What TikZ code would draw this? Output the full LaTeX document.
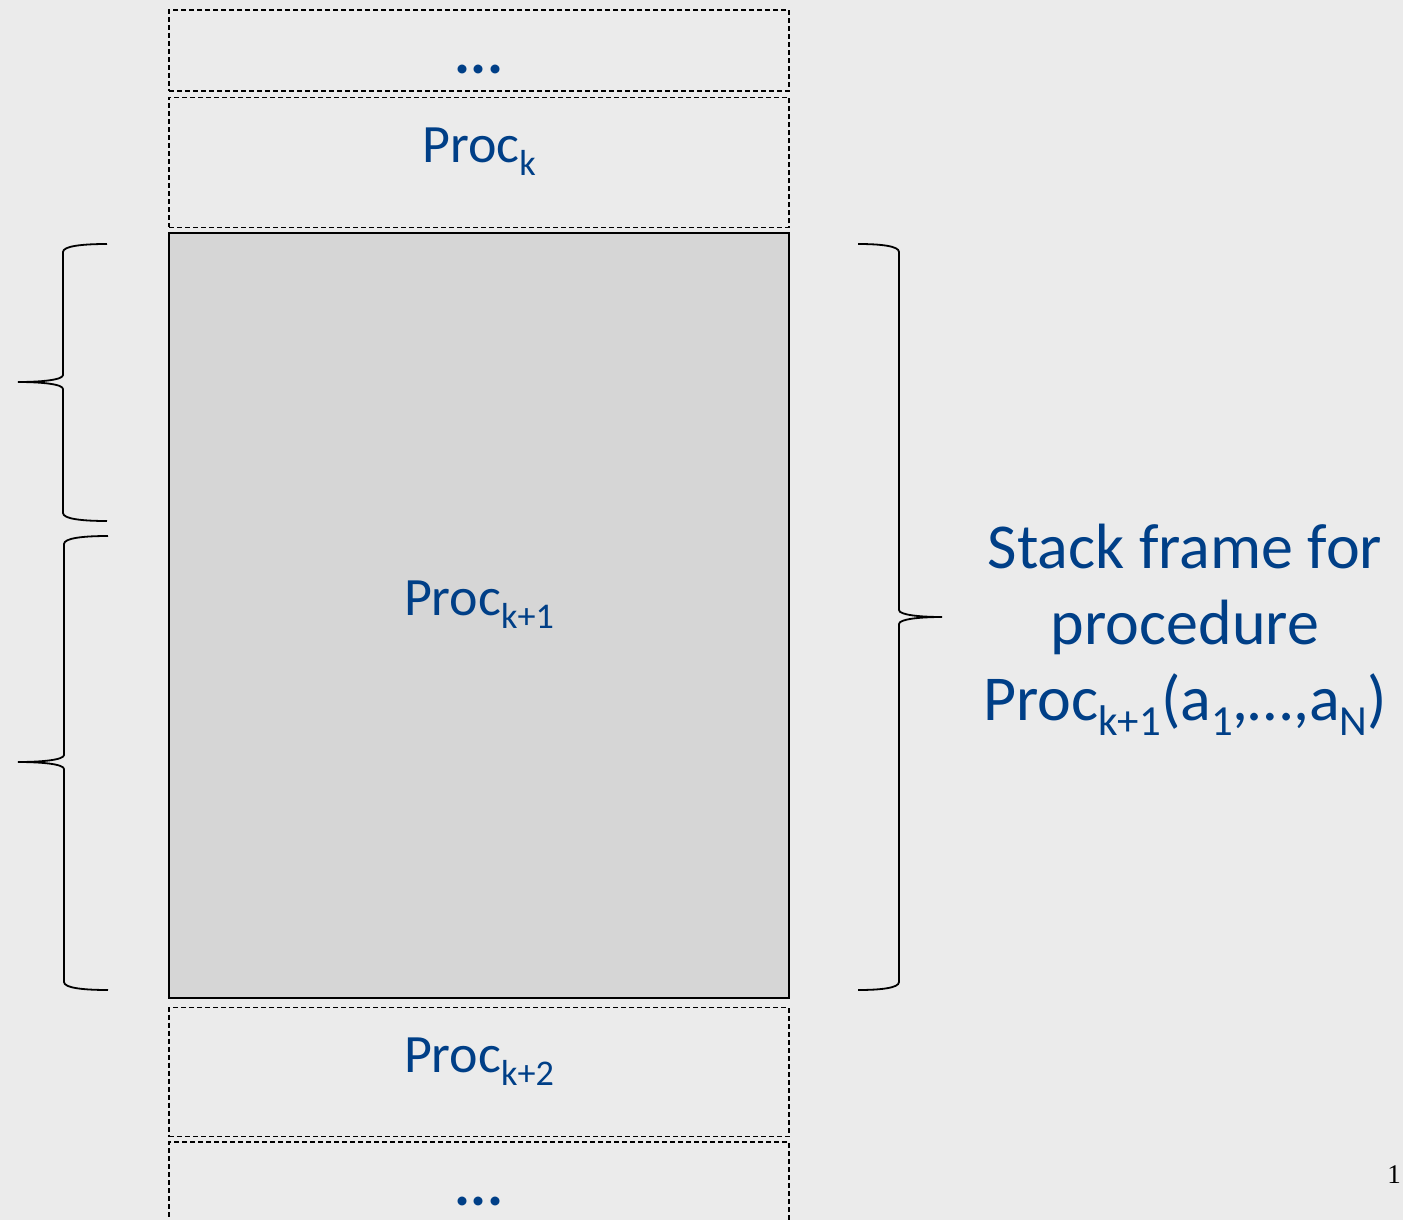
\documentclass[tikz,border=0pt]{standalone}
\usepackage{fontspec}
\setmainfont{Carlito}
\newfontfamily\pagenumfont{Liberation Serif}
\usetikzlibrary{positioning}

\definecolor{slidebg}{HTML}{EBEBEB}
\definecolor{framefill}{HTML}{D6D6D6}
\definecolor{textblue}{HTML}{003F87}

% lowered, smaller index after a procedure name
\newcommand{\procsub}[1]{\raisebox{-0.24em}{\scalebox{0.67}{#1}}}

\begin{document}
\begin{tikzpicture}[x=1pt,y=-1pt]
    \tikzstyle{every node}=[text=textblue,inner sep=0pt,font=\fontsize{54}{64}\selectfont]
    \tikzstyle{stackbox}=[draw=black,line width=1.5pt,dash pattern=on 5pt off 3pt,minimum width=620pt]
    \tikzstyle{framebox}=[draw=black,line width=1.8pt,fill=framefill,minimum width=620pt,minimum height=765pt]
    \tikzstyle{bracestyle}=[draw=black,line width=1.8pt]
    \tikzstyle{dotsstyle}=[font=\fontsize{60}{64}\selectfont\bfseries]

    \fill[slidebg] (0,0) rectangle (1403,1220);
    \useasboundingbox (0,0) rectangle (1403,1220);

    % the stack, frame k+1 in the middle
    \node[framebox] (frame) at (479,615.5) {};
    \node[stackbox,minimum height=130pt,above=4pt of frame] (prock) {};
    \node[stackbox,minimum height=81pt,above=5pt of prock] (dotstop) {};
    \node[stackbox,minimum height=129pt,below=8pt of frame] (prockk) {};
    \node[stackbox,minimum height=130pt,below=4pt of prockk] (dotsbottom) {};

    \node[anchor=base] (labk) at (prock.center) {Proc\procsub{k}};
    \node[anchor=base] (labframe) at (frame.center) {Proc\procsub{k+1}};
    \node[anchor=base] (labkk) at (prockk.center) {Proc\procsub{k+2}};
    \node[dotsstyle,anchor=base] (dotsup) at ([yshift=-64pt]dotstop.north) {...};
    \node[dotsstyle,anchor=base] (dotsdown) at ([yshift=-64pt]dotsbottom.north) {...};

    % end x, spine x, tip x, top y, tip y, bottom y
    \newcommand{\curlybrace}[6]{%
      \draw[bracestyle] (#1,#4) .. controls ({#2+0.45*(#1-#2)},#4) and (#2,{#4+2}) .. (#2,{#4+8})
        -- (#2,{#5-7}) .. controls (#2,{#5-2}) and ({#2+0.5*(#3-#2)},#5) .. (#3,#5)
        .. controls ({#2+0.5*(#3-#2)},#5) and (#2,{#5+2}) .. (#2,{#5+7})
        -- (#2,{#6-8}) .. controls (#2,{#6-2}) and ({#2+0.45*(#1-#2)},#6) .. (#1,#6) ;}

    \curlybrace{107}{63}{18}{244}{382}{521}
    \curlybrace{108}{64}{18}{536}{762}{990}
    \curlybrace{858}{899}{942}{244}{617}{990}

    \node[align=center,font=\fontsize{64}{76}\selectfont] (framelabel) at (1185,630)
        {Stack frame for\\ procedure\\ Proc\procsub{k+1}(a\procsub{1},…,a\procsub{N})};

    \node[anchor=base east,text=black,font=\pagenumfont\fontsize{27}{30}\selectfont] (pagenum) at (1401,1183) {1};
\end{tikzpicture}
\end{document}
